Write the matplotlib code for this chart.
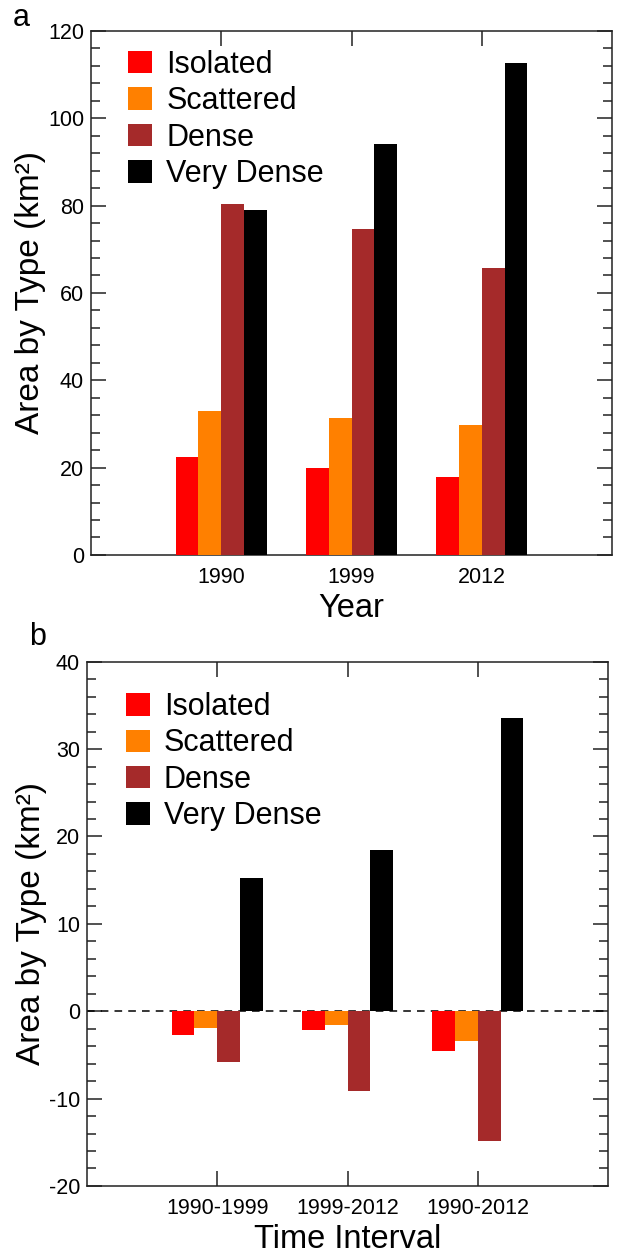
import numpy as np
import matplotlib
matplotlib.use("Agg")
import matplotlib.pyplot as plt
from matplotlib.ticker import MultipleLocator

plt.rcParams['font.family'] = ['Liberation Sans', 'DejaVu Sans']
plt.rcParams['axes.unicode_minus'] = False

# Data
types = ["Isolated", "Scattered", "Dense", "Very Dense"]
colors = ["#FF0000", "#FF8000", "#A52A2A", "#000000"]

years = ["1990", "1999", "2012"]
isolated_area = [22.5, 19.9, 17.9]
scattered_area = [33.0, 31.3, 29.8]
dense_area = [80.4, 74.7, 65.6]
very_dense_area = [79.0, 94.1, 112.6]

intervals = ["1990-1999", "1999-2012", "1990-2012"]
isolated_change = [-2.7, -2.1, -4.6]
scattered_change = [-1.9, -1.6, -3.4]
dense_change = [-5.8, -9.1, -14.8]
very_dense_change = [15.2, 18.5, 33.6]

BAR_W = 0.175


def draw_panel(ax, labels, series, ylim, major, minor, xlabel, legend_at):
	x = np.arange(len(labels))
	offsets = (np.arange(len(series)) - 1.5) * BAR_W
	for vals, off, col, name in zip(series, offsets, colors, types):
		ax.bar(x + off, vals, width=BAR_W, color=col, label=name,
			   linewidth=0, zorder=3)
	ax.set_xlim(-1, 3)
	ax.set_ylim(*ylim)
	ax.set_xticks(x)
	ax.set_xticklabels(labels)
	ax.yaxis.set_major_locator(MultipleLocator(major))
	ax.yaxis.set_minor_locator(MultipleLocator(minor))
	ax.set_axisbelow(True)
	ax.tick_params(axis='both', which='both', direction='in', top=True,
				   right=True, labelsize=15.5, width=1.1, color='#222222')
	ax.tick_params(axis='both', which='major', length=11)
	ax.tick_params(axis='x', which='major', pad=9)
	ax.tick_params(axis='y', which='major', pad=5)
	ax.tick_params(axis='y', which='minor', length=6.5)
	for sp in ax.spines.values():
		sp.set_linewidth(1.1)
		sp.set_color('#222222')
	ax.set_ylabel("Area by Type (km²)", fontsize=24, labelpad=1.5)
	ax.set_xlabel(xlabel, fontsize=23.5, labelpad=3)
	ax.legend(loc='upper left', bbox_to_anchor=legend_at, frameon=False,
			  fontsize=22, handlelength=0.8, handleheight=0.75,
			  handletextpad=0.45, labelspacing=0.21, borderpad=0.2)


fig = plt.figure(figsize=(6.26, 12.53), dpi=100)
ax1 = fig.add_axes([0.1454, 0.5571, 0.8323, 0.4182])
ax2 = fig.add_axes([0.139, 0.0535, 0.8323, 0.4184])

draw_panel(ax1, years,
		   [isolated_area, scattered_area, dense_area, very_dense_area],
		   (0, 120), 20, 4, "Year", (0.03, 1.005))

ax2.axhline(0, color='black', linestyle='--', linewidth=1.1, dashes=(5, 4), zorder=2)
draw_panel(ax2, intervals,
		   [isolated_change, scattered_change, dense_change, very_dense_change],
		   (-20, 40), 10, 2, "Time Interval", (0.033, 0.983))

fig.text(0.02, 0.979, "a", fontsize=22)
fig.text(0.046, 0.485, "b", fontsize=22)

fig.savefig("out.png", dpi=100)
